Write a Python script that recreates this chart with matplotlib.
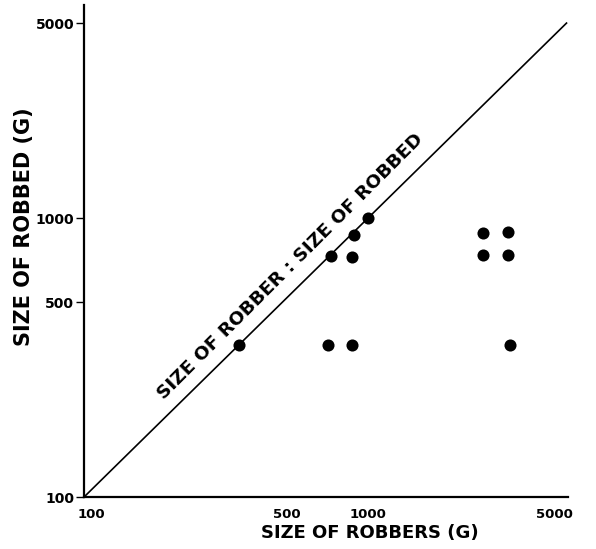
import numpy as np
import matplotlib
matplotlib.use("Agg")
import matplotlib.pyplot as plt
import matplotlib.transforms as mtransforms
from matplotlib.ticker import FixedLocator, NullLocator

# ── data ───────────────────────────────────────────────────────────────────────
robber_size = [350, 720, 880, 3150, 740, 875, 890, 1000, 2550, 3100, 2550, 3100]
robbed_size = [350, 350, 350, 350, 730, 725, 870, 1000, 740, 740, 885, 890]
equal_line = [100, 5000]
tick_values = [100, 500, 1000, 5000]
tick_labels = ["100", "500", "1000", "5000"]

plt.rcParams["font.family"] = ["DejaVu Sans"]
plt.rcParams["font.weight"] = "bold"

fig = plt.figure(figsize=(5.96, 5.49), dpi=100)
ax = fig.add_axes([0.141, 0.0947, 0.812, 0.896])

ax.plot(equal_line, equal_line, color="black", linewidth=1.2, zorder=2)
ax.plot(robber_size, robbed_size, "o", color="black", markersize=8.7,
        markeredgewidth=0, zorder=3)

ax.set_xscale("log"); ax.set_yscale("log")
ax.set_xlim(100, 5060)
ax.set_ylim(100, 5800)

ax.xaxis.set_major_locator(FixedLocator(tick_values))
ax.yaxis.set_major_locator(FixedLocator(tick_values))
ax.xaxis.set_minor_locator(NullLocator())
ax.yaxis.set_minor_locator(NullLocator())
ax.set_xticklabels(tick_labels, fontsize=9.5, fontweight="bold")
ax.set_yticklabels(tick_labels, fontsize=10, fontweight="bold")
ax.tick_params(axis="x", length=0, pad=8)
ax.tick_params(axis="y", length=6, width=1, pad=1)

# the printed 100 and 5000 labels sit a little inside the axis ends
xshift = [7, 4, 0, -12]
for lab, dx in zip(ax.get_xticklabels(), xshift):
    lab.set_transform(lab.get_transform() +
                      mtransforms.ScaledTranslation(dx / 100, 0, fig.dpi_scale_trans))

for side in ["top", "right"]:
    ax.spines[side].set_visible(False)
for side in ["left", "bottom"]:
    ax.spines[side].set_linewidth(1.6)

ax.set_xlabel("SIZE OF ROBBERS (G)", fontsize=13, fontweight="bold")
ax.xaxis.set_label_coords(0.591, -0.055)
ax.set_ylabel("SIZE OF ROBBED (G)", fontsize=15, fontweight="bold")
ax.yaxis.set_label_coords(-0.103, 0.549)

ax.text(533, 672, "SIZE OF ROBBER : SIZE OF ROBBED", fontsize=13.3,
        fontweight="bold", rotation=45, rotation_mode="anchor",
        ha="center", va="center")

fig.savefig("out.png", dpi=100)
